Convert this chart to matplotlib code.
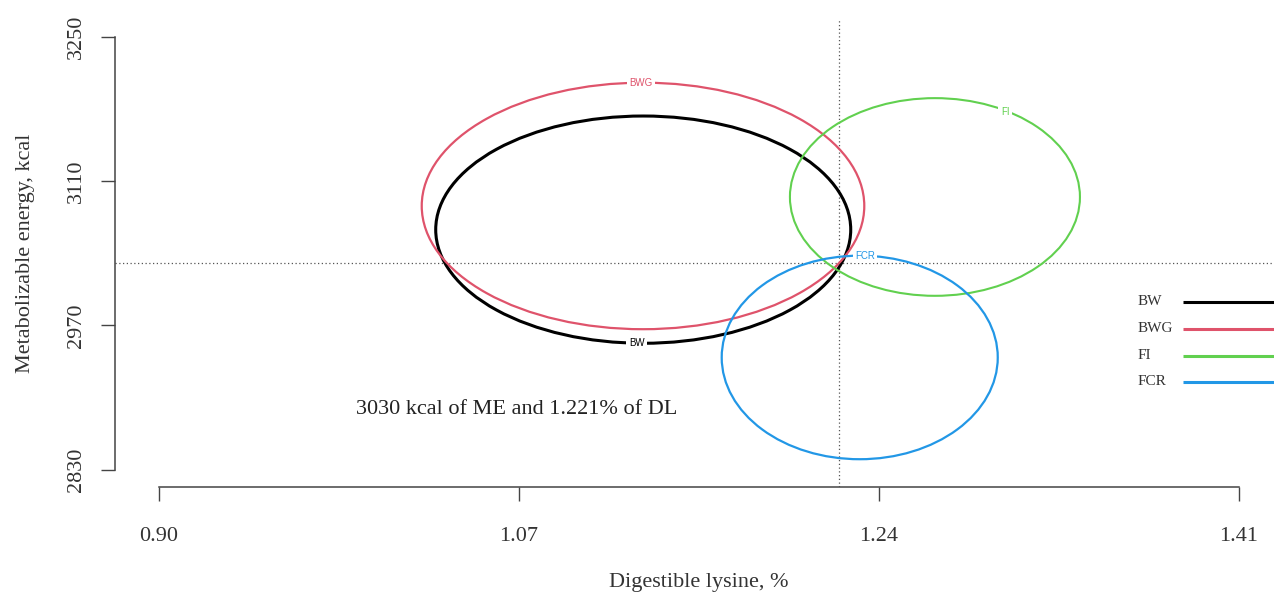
import matplotlib
matplotlib.use('Agg')
import matplotlib.pyplot as plt
from matplotlib.patches import Ellipse

plt.rcParams['font.family'] = ['Liberation Serif', 'DejaVu Serif']

# ---- data ----
names    = ['BW', 'BWG', 'FI', 'FCR']
colors   = ['#000000', '#DF536B', '#61D04F', '#2297E6']
center_x = [1.1288, 1.1287, 1.2665, 1.2310]     # digestible lysine, %
center_y = [3062.8, 3085.8, 3094.5, 2938.8]     # ME, kcal
width_x  = [0.1959, 0.2089, 0.1369, 0.1303]
height_y = [220.5, 239.2, 191.8, 197.5]
label_x  = [1.1257, 1.1276, 1.2996, 1.2335]
label_y  = [2952.6, 3205.4, 3177.0, 3037.3]

opt_x, opt_y = 1.221, 3030
xticks = [0.90, 1.07, 1.24, 1.41]
yticks = [2830, 2970, 3110, 3250]

fig = plt.figure(figsize=(12.74, 5.95), dpi=100)
ax = fig.add_axes([0.0905, 0.1817, 0.9159, 0.7857])
ax.set_xlim(0.8796, 1.4304)
ax.set_ylim(2813.2, 3266.8)

lws = [2.2, 1.6, 1.5, 1.6]
for i in range(len(names)):
    e = Ellipse((center_x[i], center_y[i]), width_x[i], height_y[i],
                fill=False, edgecolor=colors[i], linewidth=lws[i], zorder=3)
    ax.add_patch(e)
    ax.text(label_x[i], label_y[i], names[i], fontsize=7, color=colors[i],
            family='Liberation Sans', ha='center', va='center', zorder=4,
            bbox=dict(boxstyle='square,pad=0.25', facecolor='white', edgecolor='none'))

# optimum reference lines
ax.axhline(opt_y, color='#555555', linestyle=(0, (1, 2)), linewidth=0.9, zorder=2)
ax.axvline(opt_x, color='#555555', linestyle=(0, (1, 2)), linewidth=0.9, zorder=2)

ax.text(1.0692, 2888, f'{opt_y} kcal of ME and {opt_x}% of DL',
        fontsize=16, ha='center', va='center', color='#222222')

# legend drawn by hand (line runs off the right edge like the reference)
leg_y = [2992.7, 2966.5, 2940.3, 2915.4]
for i in range(len(names)):
    ax.text(1.362, leg_y[i], names[i], fontsize=11, va='center', ha='left',
            color='#333333')
    ax.plot([1.3835, 1.44], [leg_y[i], leg_y[i]], color=colors[i], lw=2.2,
            solid_capstyle='butt', clip_on=False)

# R-style detached axes
for sp in ['top', 'right']:
    ax.spines[sp].set_visible(False)
ax.spines['left'].set_bounds(2830, 3250)
ax.spines['bottom'].set_bounds(0.90, 1.41)
for sp in ['left', 'bottom']:
    ax.spines[sp].set_color('#444444')
    ax.spines[sp].set_linewidth(1.1)
ax.set_xticks(xticks)
ax.set_xticklabels([f'{v:.2f}' for v in xticks])
ax.set_yticks(yticks)
ax.set_yticklabels([str(v) for v in yticks], rotation=90, va='center')
ax.tick_params(direction='out', length=10, width=1.0, color='#444444',
               labelsize=16, labelcolor='#333333')
ax.tick_params(axis='x', pad=19)
ax.tick_params(axis='y', pad=11)

ax.set_xlabel('Digestible lysine, %', fontsize=16, color='#333333', labelpad=19)
ax.set_ylabel('Metabolizable energy, kcal', fontsize=16, color='#333333', labelpad=23)

fig.savefig('out.png', dpi=100, facecolor='white')
